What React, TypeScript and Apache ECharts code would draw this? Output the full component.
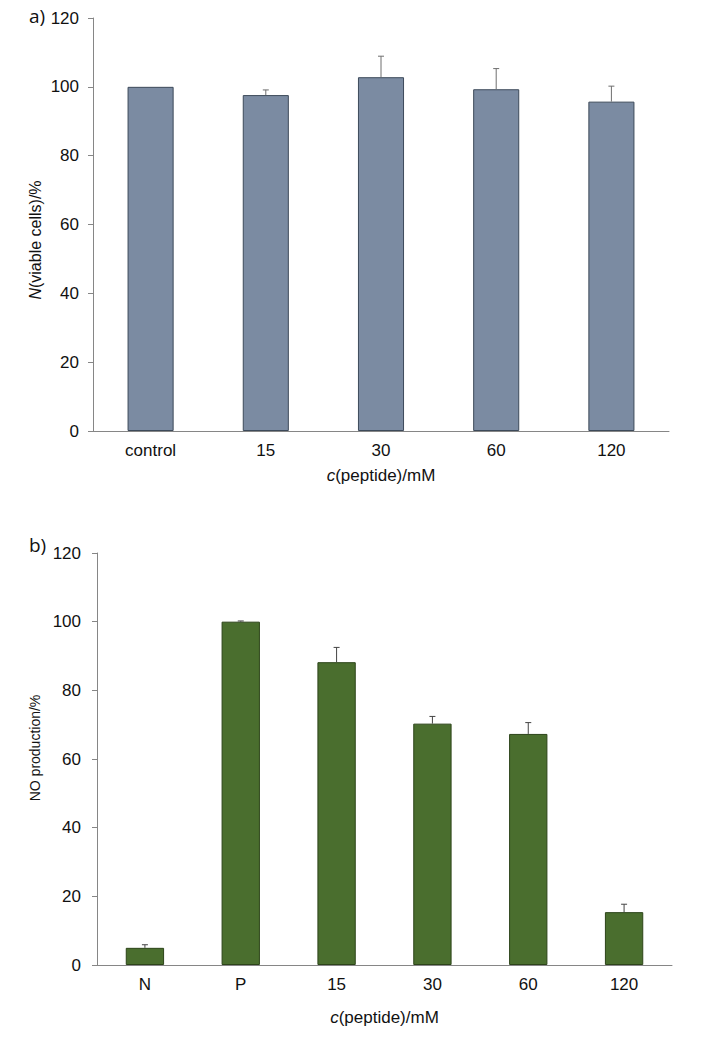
import React, { useEffect, useRef } from "react";
import * as echarts from "echarts";

const catsA = ["control", "15", "30", "60", "120"];
const valsA = [100, 97.6, 102.8, 99.3, 95.7];
const errA = [0, 1.5, 6.1, 6.0, 4.5];

const catsB = ["N", "P", "15", "30", "60", "120"];
const valsB = [5.0, 100, 88.2, 70.3, 67.3, 15.4];
const errB = [0.9, 0.2, 4.3, 2.1, 3.3, 2.3];

const yMin = 0;
const yMax = 120;
const yStep = 20;

const FONT = "Liberation Sans";

function errorSeries(xi: number, cats: string[], vals: number[], errs: number[], color: string) {
  return {
    type: "custom",
    xAxisIndex: xi,
    yAxisIndex: xi,
    z: 5,
    encode: { x: 0, y: 1 },
    data: cats.map((_, i) => [i, vals[i], errs[i]]).filter((d) => d[2] > 0),
    renderItem: (params: any, api: any) => {
      const x = api.value(0);
      const v = api.value(1);
      const e = api.value(2);
      const p0 = api.coord([x, v]);
      const p1 = api.coord([x, v + e]);
      return {
        type: "group",
        children: [
          { type: "line", shape: { x1: p0[0], y1: p0[1], x2: p1[0], y2: p1[1] }, style: { stroke: color, lineWidth: 1 } },
          { type: "line", shape: { x1: p1[0] - 3, y1: p1[1], x2: p1[0] + 3, y2: p1[1] }, style: { stroke: color, lineWidth: 1 } },
        ],
      };
    },
  };
}

export default function App() {
  const ref = useRef<HTMLDivElement>(null);
  useEffect(() => {
    document.body.style.margin = "0";
    const chart = echarts.init(ref.current!, null, { renderer: "svg" });
    const axisLineStyle = { color: "#868686", width: 1 };
    const xAxisBase = (cats: string[], idx: number, gap: number) => ({
      type: "category",
      gridIndex: idx,
      data: cats,
      axisLine: { lineStyle: axisLineStyle },
      axisTick: { show: false },
      axisLabel: { color: "#111", fontSize: 17, fontFamily: FONT, margin: 11 },
      name: "{i|c}(peptide)/mM",
      nameLocation: "middle",
      nameGap: gap,
      nameTextStyle: {
        color: "#111",
        fontSize: 17,
        fontFamily: FONT,
        rich: { i: { fontStyle: "italic", fontSize: 17, fontFamily: FONT, color: "#111" } },
      },
    });
    const yAxisBase = (idx: number, margin: number) => ({
      type: "value",
      gridIndex: idx,
      min: yMin,
      max: yMax,
      interval: yStep,
      axisLine: { show: true, lineStyle: axisLineStyle },
      axisTick: { show: true, length: 5, lineStyle: axisLineStyle },
      splitLine: { show: false },
      axisLabel: { color: "#111", fontSize: 17, fontFamily: FONT, margin },
    });
    chart.setOption({
      animation: false,
      backgroundColor: "#fff",
      grid: [
        { left: 93, top: 18, width: 576, height: 413 },
        { left: 97, top: 553, width: 575, height: 412 },
      ],
      xAxis: [xAxisBase(catsA, 0, 36), xAxisBase(catsB, 1, 44)],
      yAxis: [yAxisBase(0, 14), yAxisBase(1, 16)],
      graphic: [
        { type: "text", left: 29, top: 6, style: { text: "a)", fontSize: 19, fontFamily: "'Open Sans', sans-serif", fill: "#111" } },
        { type: "text", left: 29, top: 535, style: { text: "b)", fontSize: 19, fontFamily: "'Open Sans', sans-serif", fill: "#111" } },
        {
          type: "text",
          x: 35,
          y: 240,
          rotation: Math.PI / 2,
          style: {
            text: "{i|N}(viable cells)/%",
            fontSize: 16,
            fontFamily: FONT,
            fill: "#111",
            align: "center",
            verticalAlign: "middle",
            rich: { i: { fontStyle: "italic", fontSize: 16, fontFamily: FONT, fill: "#111" } },
          },
        },
        {
          type: "text",
          x: 35,
          y: 748,
          rotation: Math.PI / 2,
          style: {
            text: "NO production/%",
            fontSize: 14,
            fontFamily: FONT,
            fill: "#111",
            align: "center",
            verticalAlign: "middle",
          },
        },
      ],
      series: [
        {
          type: "bar",
          xAxisIndex: 0,
          yAxisIndex: 0,
          data: valsA,
          barWidth: "40%",
          itemStyle: { color: "#7b8ba2", borderColor: "#3d4a5a", borderWidth: 1 },
        },
        errorSeries(0, catsA, valsA, errA, "#6e6e6e"),
        {
          type: "bar",
          xAxisIndex: 1,
          yAxisIndex: 1,
          data: valsB,
          barWidth: "40%",
          itemStyle: { color: "#4a6e2e", borderColor: "#2c4419", borderWidth: 1 },
        },
        errorSeries(1, catsB, valsB, errB, "#444"),
      ],
    });
    return () => chart.dispose();
  }, []);
  return <div ref={ref} style={{ position: "absolute", left: 0, top: 0, width: 701, height: 1039 }} />;
}
